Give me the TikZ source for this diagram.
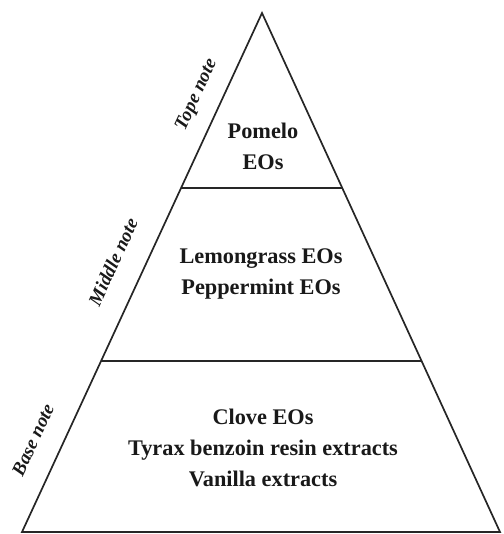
\documentclass[tikz,border=0pt]{standalone}
\usepackage{fontspec}
\setmainfont{Liberation Serif}
\usepackage{tikz}
\usetikzlibrary{positioning,calc}
\tikzstyle{tier} = [line width=1.7pt, draw=black!85]
\tikzstyle{oils} = [align=center, font=\bfseries\fontsize{22.3}{31}\selectfont, text=black!90]
\tikzstyle{notelabel} = [rotate=65.2, font=\bfseries\itshape\fontsize{19}{20}\selectfont, text=black!90]

\begin{document}
\begin{tikzpicture}[x=1pt,y=1pt]

		\useasboundingbox (0,0) rectangle (503,534);

		\coordinate (apex) at (262,521);
		\coordinate (baseL) at (22,2);
		\coordinate (baseR) at (500,2);
		\coordinate (topL) at ($(apex)!0.337!(baseL)$);
		\coordinate (topR) at ($(apex)!0.337!(baseR)$);
		\coordinate (midL) at ($(apex)!0.6705!(baseL)$);
		\coordinate (midR) at ($(apex)!0.6705!(baseR)$);

		\draw [tier] (apex) -- (baseL) -- (baseR) -- cycle;
		\draw [tier] (topL) -- (topR);
		\draw [tier] (midL) -- (midR);

		\node (top) [oils] at (263,387.5) {Pomelo\\EOs};
		\node (middle) [oils] at (261,260) {Lemongrass EOs\\Peppermint EOs};
		\node (base) [oils] at (263,86) {Clove EOs\\Tyrax benzoin resin extracts\\Vanilla extracts};

		\node (toplabel) [notelabel] at (197,439) {Tope note};
		\node (middlelabel) [notelabel] at (113,272) {Middle note};
		\node (baselabel) [notelabel] at (33,94) {Base note};

	\end{tikzpicture}
\end{document}
